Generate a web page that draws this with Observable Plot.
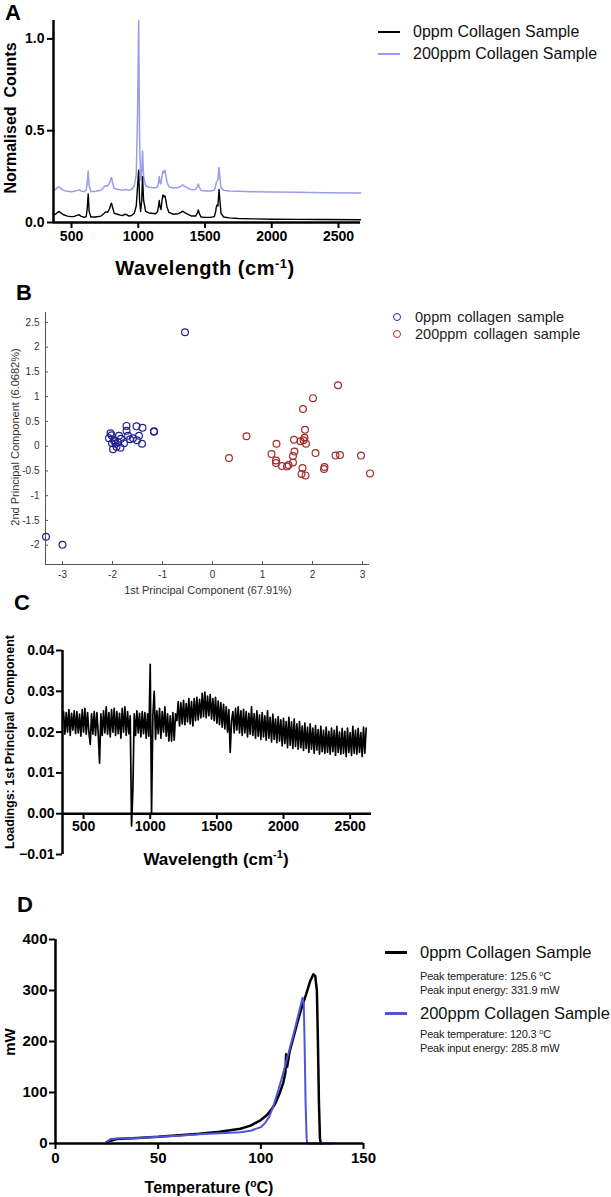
<!DOCTYPE html>
<html><head><meta charset="utf-8">
<script src="https://cdn.jsdelivr.net/npm/d3@7"></script>
<script src="https://cdn.jsdelivr.net/npm/@observablehq/plot@0.6"></script>
<style>
body{margin:0;background:#fff;}
#wrap{position:relative;width:611px;height:1197px;overflow:hidden;font-family:Arial,"Liberation Sans",sans-serif;background:#fff;}
.p{position:absolute;}
.c{position:absolute;transform:translate(-50%,-50%);white-space:nowrap;line-height:1;}
.r{position:absolute;transform:translate(-50%,-50%) rotate(-90deg);white-space:nowrap;line-height:1;}
.t{position:absolute;transform:translateY(-50%);white-space:nowrap;line-height:1;}
.letter{position:absolute;font-weight:bold;font-size:22px;line-height:1;}
.ln{position:absolute;height:2px;}
sup{font-size:65%;vertical-align:0.55em;line-height:0;}
svg.boldax text{font-weight:700 !important;font-family:Arial,"Liberation Sans",sans-serif !important;}
</style></head>
<body><div id="wrap"></div>
<script>
// ---------- Panel A: Raman spectra ----------
const aWave = [365,380,395,407,420,440,470,495,520,545,
  557,570,595,610,618,625,632,645,680,720,
  745,757,770,785,795,800,808,820,845,865,
  882,900,915,930,950,970,985,995,1003,1010,
  1018,1026,1032,1040,1055,1080,1100,1130,1145,1152,
  1157,1163,1170,1178,1185,1192,1200,1207,1215,1230,
  1260,1300,1320,1333,1345,1370,1400,1430,1445,1450,
  1457,1470,1500,1540,1570,1580,1585,1590,1597,1605,
  1612,1620,1640,1680,1750,1850,2000,2200,2400,2665];
const aZero = [.040,.045,.055,.060,.052,.042,.035,.032,.033,.040,
  .042,.035,.028,.032,.080,.156,.060,.030,.030,.035,
  .050,.058,.055,.075,.100,.105,.080,.050,.045,.040,
  .038,.045,.042,.035,.038,.050,.090,.200,.285,.120,
  .060,.120,.250,.120,.060,.052,.050,.048,.060,.090,
  .120,.085,.070,.120,.150,.140,.145,.120,.085,.055,
  .045,.048,.055,.062,.055,.045,.035,.035,.055,.068,
  .050,.030,.028,.028,.032,.060,.085,.095,.090,.180,
  .120,.050,.030,.025,.022,.020,.018,.017,.016,.015];
const aTwoHundred = [.175,.180,.190,.195,.185,.175,.170,.168,.170,.175,
  .178,.172,.168,.175,.220,.280,.200,.168,.170,.175,
  .195,.200,.198,.215,.240,.245,.215,.185,.180,.178,
  .175,.180,.178,.175,.180,.200,.260,.600,1.100,.450,
  .230,.280,.390,.250,.200,.192,.190,.188,.195,.220,
  .250,.215,.210,.255,.280,.270,.285,.255,.220,.195,
  .188,.190,.198,.205,.198,.188,.178,.180,.198,.210,
  .192,.175,.172,.172,.175,.200,.220,.225,.235,.300,
  .240,.190,.175,.172,.170,.168,.166,.165,.162,.160];
const aXTicks = [500,1000,1500,2000,2500];
const aYTicks = [0,0.5,1.0];

// ---------- Panel B: PCA scores ----------
const bX0 = [-0.55,-3.33,-3.00,-1.17,-1.17,-1.72,-1.52,-1.40,-1.72,-1.47,-1.41,-1.51,-1.69,-1.65,-1.59,-2.04,-2.07,-1.97,-1.94,-1.99,-1.84,-1.89,-1.83,-1.77,-1.92,-2.01,-1.87,-1.95,-2.02];
const bY0 = [2.30,-1.83,-1.99,0.29,0.30,0.41,0.40,0.37,0.31,0.21,0.05,0.12,0.21,0.14,0.16,0.26,0.16,0.12,0.05,-0.06,-0.03,0.08,0.15,0.06,-0.01,0.06,0.21,0.10,0.22];
const bX200 = [0.33,0.68,1.28,1.18,1.27,1.27,1.39,1.49,1.52,1.61,1.61,1.64,1.63,1.76,1.81,2.01,1.85,1.84,1.87,1.80,1.78,1.86,2.06,2.51,2.46,2.55,2.97,3.15,2.24,2.23,1.82];
const bY200 = [-0.24,0.20,0.05,-0.16,-0.29,-0.34,-0.40,-0.41,-0.38,-0.33,-0.20,-0.11,0.13,0.10,0.75,0.97,0.33,0.17,0.05,-0.44,-0.56,-0.59,-0.14,1.23,-0.19,-0.18,-0.19,-0.55,-0.42,-0.46,0.12];
const bXTicks = [-3,-2,-1,0,1,2,3];
const bYTicks = [-2,-1.5,-1,-0.5,0,0.5,1,1.5,2,2.5];

// ---------- Panel C: PC1 loadings (350..2620 cm-1, 10 cm-1 steps) ----------
const cStart = 350, cStep = 10;
const cLoad = [
  0.0250,0.0195,0.0248,0.0200,0.0255,0.0192,0.0246,0.0205,0.0252,0.0196,
  0.0250,0.0198,0.0244,0.0190,0.0255,0.0200,0.0258,0.0195,0.0248,0.0200,
  0.0170,0.0245,0.0195,0.0250,0.0192,0.0248,0.0198,0.0124,0.0245,0.0192,
  0.0252,0.0198,0.0262,0.0195,0.0248,0.0188,0.0255,0.0200,0.0258,0.0192,
  0.0250,0.0196,0.0246,0.0185,0.0258,0.0200,0.0262,0.0192,0.0250,0.0196,
  0.0240,-0.0030,0.0060,0.0245,0.0192,0.0252,0.0198,0.0246,0.0188,0.0250,
  0.0196,0.0248,0.0185,0.0245,0.0190,0.0366,0.0002,0.0240,0.0300,0.0182,
  0.0252,0.0196,0.0258,0.0185,0.0250,0.0200,0.0262,0.0190,0.0245,0.0178,
  0.0240,0.0178,0.0248,0.0180,0.0245,0.0228,0.0275,0.0215,0.0272,0.0220,
  0.0278,0.0218,0.0270,0.0225,0.0282,0.0220,0.0275,0.0215,0.0282,0.0228,
  0.0285,0.0230,0.0280,0.0235,0.0295,0.0238,0.0298,0.0235,0.0288,0.0240,
  0.0292,0.0232,0.0282,0.0228,0.0285,0.0222,0.0276,0.0218,0.0272,0.0212,
  0.0268,0.0208,0.0262,0.0200,0.0255,0.0150,0.0228,0.0250,0.0198,0.0258,
  0.0205,0.0262,0.0198,0.0252,0.0192,0.0256,0.0198,0.0250,0.0188,0.0246,
  0.0195,0.0262,0.0192,0.0245,0.0185,0.0252,0.0190,0.0242,0.0182,0.0248,
  0.0188,0.0240,0.0180,0.0252,0.0185,0.0236,0.0176,0.0244,0.0182,0.0232,
  0.0174,0.0238,0.0178,0.0230,0.0166,0.0234,0.0172,0.0226,0.0162,0.0236,
  0.0168,0.0225,0.0160,0.0232,0.0165,0.0220,0.0158,0.0226,0.0162,0.0215,
  0.0155,0.0222,0.0160,0.0212,0.0150,0.0220,0.0158,0.0210,0.0148,0.0216,
  0.0156,0.0206,0.0146,0.0214,0.0152,0.0204,0.0148,0.0212,0.0150,0.0202,
  0.0146,0.0210,0.0152,0.0204,0.0143,0.0214,0.0150,0.0200,0.0146,0.0209,
  0.0148,0.0202,0.0140,0.0210,0.0150,0.0199,0.0143,0.0214,0.0148,0.0204,
  0.0146,0.0209,0.0150,0.0199,0.0140,0.0212,0.0148,0.0210];
const cXTicks = [500,1000,1500,2000,2500];
const cYTicks = [-0.01,0,0.01,0.02,0.03,0.04];

// ---------- Panel D: DSC curves ----------
const dTemp0 = [25,30,40,50,60,70,80,90,95,100,103,105,107,109,111,112,112.3,112.8,114,116,118,120,122,124,125.6,126.5,127.3,127.8,128.3,128.8,129.2];
const dPow0 = [3,9,11,13,16,19,23,29,35,46,56,66,78,97,120,140,175,150,180,210,240,268,292,318,331.9,328,300,200,80,10,0];
const dTemp200 = [25,25.5,27,30,40,50,60,70,80,90,95,100,102,104,106,108,110,112,114,116,118,119.5,120.3,120.9,121.3,121.8,122.3,122.7,135];
const dPow200 = [0,5,9,10,11,13,15,18,20,22,25,32,40,52,72,98,125,155,185,215,248,272,285.8,275,200,80,10,0,0];
const dXTicks = [0,50,100,150];
const dYTicks = [0,100,200,300,400];

const wrap = document.getElementById("wrap");
function place(el, left, top){ el.style.position="absolute"; el.style.left=left+"px"; el.style.top=top+"px"; wrap.appendChild(el); }
function html(cls, left, top, inner, css){ const d=document.createElement("div"); d.className=cls; d.style.left=left+"px"; d.style.top=top+"px"; d.innerHTML=inner; if(css) d.style.cssText+=css; wrap.appendChild(d); return d; }

const boldStyle = {fontFamily:"Arial, 'Liberation Sans', sans-serif", fontSize:"14px", fontWeight:"bold", color:"#000", background:"transparent", overflow:"visible"};
const str = d => String(d);

// Panel A
const aRows = aWave.map((w,i)=>({w, v0:aZero[i], v200:aTwoHundred[i]}));
const chartA = Plot.plot({
  width:370, height:280, marginLeft:53, marginRight:10, marginTop:20, marginBottom:58,
  style: boldStyle,
  x:{domain:[365,2665]}, y:{domain:[0,1.1]},
  marks:[
    Plot.axisX({ticks:aXTicks, tickSize:6, tickPadding:3, strokeWidth:2, label:null, tickFormat:str, fontWeight:"bold", fontSize:14}),
    Plot.axisY({ticks:aYTicks, tickSize:6, tickPadding:3, strokeWidth:2, label:null, tickFormat:".1f", fontWeight:"bold", fontSize:14}),
    Plot.line(aRows,{x:"w", y:"v200", stroke:"#9b9bf0", strokeWidth:1.5}),
    Plot.line(aRows,{x:"w", y:"v0", stroke:"#000", strokeWidth:1.4}),
    Plot.ruleX([365],{stroke:"#000", strokeWidth:2.5}),
    Plot.ruleY([0],{stroke:"#000", strokeWidth:2.5})
  ]
});
chartA.classList.add("boldax");
place(chartA, 0, 0);

// Panel B
const bRows0 = bX0.map((x,i)=>({x, y:bY0[i]}));
const bRows200 = bX200.map((x,i)=>({x, y:bY200[i]}));
const chartB = Plot.plot({
  width:380, height:310, marginLeft:45, marginRight:11, marginTop:22, marginBottom:36,
  style:{fontFamily:"Arial, 'Liberation Sans', sans-serif", fontSize:"10px", color:"#333", background:"transparent", overflow:"visible"},
  x:{domain:[-3.34,3.14]}, y:{domain:[-2.39,2.70]},
  marks:[
    Plot.axisX({ticks:bXTicks, tickSize:-3, tickPadding:9, stroke:"#555", label:null, tickFormat:str}),
    Plot.axisY({ticks:bYTicks, tickSize:-3, tickPadding:9, stroke:"#555", label:null, tickFormat:str}),
    Plot.ruleX([-3.34],{stroke:"#555", strokeWidth:1}),
    Plot.ruleY([-2.39],{stroke:"#555", strokeWidth:1}),
    Plot.dot(bRows0,{x:"x", y:"y", r:3.4, stroke:"#23238f", strokeWidth:1.2, fill:"none"}),
    Plot.dot(bRows200,{x:"x", y:"y", r:3.4, stroke:"#a32b2b", strokeWidth:1.2, fill:"none"})
  ]
});
place(chartB, 0, 290);

// Panel C
const cRows = cLoad.map((v,i)=>({w:cStart+cStep*i, v}));
const chartC = Plot.plot({
  width:380, height:265, marginLeft:62, marginRight:9, marginTop:40, marginBottom:62,
  style: boldStyle,
  x:{domain:[342,2660]}, y:{domain:[-0.01,0.04], range:[244,40]},
  marks:[
    Plot.axisX({ticks:cXTicks, tickSize:6, tickPadding:2, strokeWidth:2, label:null, tickFormat:str, fontWeight:"bold", fontSize:14}),
    Plot.axisY({ticks:cYTicks, tickSize:6, tickPadding:2, strokeWidth:2, label:null, tickFormat:".2f", fontWeight:"bold", fontSize:14}),
    Plot.line(cRows,{x:"w", y:"v", stroke:"#000", strokeWidth:1.7}),
    Plot.ruleX([342],{y1:-0.01, y2:0.04, stroke:"#000", strokeWidth:2.5}),
    Plot.ruleY([0],{stroke:"#000", strokeWidth:2.5})
  ]
});
chartC.classList.add("boldax");
place(chartC, 0, 610);

// Panel D
const dRows0 = dTemp0.map((t,i)=>({t, p:dPow0[i]}));
const dRows200 = dTemp200.map((t,i)=>({t, p:dPow200[i]}));
const chartD = Plot.plot({
  width:375, height:277, marginLeft:55, marginRight:12, marginTop:19, marginBottom:54,
  style: boldStyle,
  x:{domain:[0,150]}, y:{domain:[0,400]},
  marks:[
    Plot.axisX({ticks:dXTicks, tickSize:6, tickPadding:3, strokeWidth:2, label:null, tickFormat:str, fontWeight:"bold", fontSize:15}),
    Plot.axisY({ticks:dYTicks, tickSize:6, tickPadding:2, strokeWidth:2, label:null, tickFormat:str, fontWeight:"bold", fontSize:15}),
    Plot.line(dRows0,{x:"t", y:"p", stroke:"#000", strokeWidth:2.5}),
    Plot.line(dRows200,{x:"t", y:"p", stroke:"#5252e0", strokeWidth:2}),
    Plot.ruleX([0],{stroke:"#000", strokeWidth:2.5}),
    Plot.ruleY([0],{stroke:"#000", strokeWidth:2.5})
  ]
});
chartD.classList.add("boldax");
place(chartD, 0, 920);

// Panel letters
html("letter", 5, 2, "A");
html("letter", 16, 282, "B");
html("letter", 14, 592, "C");
html("letter", 17, 894, "D");

// Axis titles
html("c", 205, 268, "Wavelength (cm<sup>-1</sup>)", "font-weight:bold;font-size:20px;letter-spacing:0.5px;");
html("r", 11, 118, "Normalised&nbsp; Counts", "font-weight:bold;font-size:16px;");
html("c", 208, 590, "1st Principal Component (67.91%)", "font-size:11px;color:#333;");
html("r", 15, 437, "2nd Principal Component (6.0682%)", "font-size:11px;color:#333;");
html("c", 216, 859, "Wavelength (cm<sup>-1</sup>)", "font-weight:bold;font-size:17px;");
html("r", 10, 742, "Loadings: 1st Principal&nbsp; Component", "font-weight:bold;font-size:12.5px;");
html("c", 209, 1188, "Temperature (<sup>o</sup>C)", "font-weight:bold;font-size:16px;");
html("r", 9, 1042, "mW", "font-weight:bold;font-size:15px;");

// Legend A
html("ln", 378, 31, "", "width:22px;background:#000;height:1.5px;");
html("t", 413, 32, "0ppm Collagen Sample", "font-size:16px;color:#111;");
html("ln", 378, 53, "", "width:22px;background:#9b9bf0;height:1.5px;");
html("t", 413, 54, "200ppm Collagen Sample", "font-size:16px;color:#111;");

// Legend B
html("p", 393, 313, "", "width:6px;height:6px;border:1.6px solid #23238f;border-radius:50%;box-sizing:content-box;");
html("t", 415, 317, "0ppm collagen sample", "font-size:14.5px;color:#222;word-spacing:2px;");
html("p", 393, 330, "", "width:6px;height:6px;border:1.3px solid #a32b2b;border-radius:50%;box-sizing:content-box;");
html("t", 415, 334, "200ppm collagen sample", "font-size:14.5px;color:#222;word-spacing:2px;");

// Legend D
html("ln", 385, 951, "", "width:22px;background:#000;height:2.5px;");
html("t", 420, 952, "0ppm Collagen Sample", "font-size:16.5px;color:#111;");
html("t", 420, 976, "Peak temperature: 125.6 <sup>o</sup>C", "font-size:11px;color:#222;letter-spacing:-0.2px;");
html("t", 420, 990, "Peak input energy: 331.9 mW", "font-size:11px;color:#222;letter-spacing:-0.2px;");
html("ln", 385, 1012, "", "width:22px;background:#5252e0;height:2.5px;");
html("t", 420, 1013, "200ppm Collagen Sample", "font-size:16.5px;color:#111;");
html("t", 420, 1034, "Peak temperature: 120.3 <sup>o</sup>C", "font-size:11px;color:#222;letter-spacing:-0.2px;");
html("t", 420, 1048, "Peak input energy: 285.8 mW", "font-size:11px;color:#222;letter-spacing:-0.2px;");
</script>
</body></html>
